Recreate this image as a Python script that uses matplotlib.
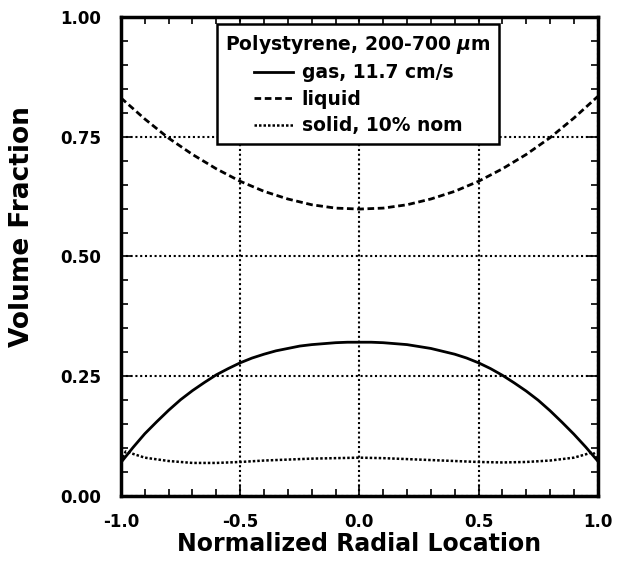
import matplotlib
matplotlib.use("Agg")
import matplotlib.pyplot as plt
from matplotlib.ticker import MultipleLocator

plt.rcParams["font.family"] = ["DejaVu Sans"]
plt.rcParams["font.weight"] = "bold"
plt.rcParams["mathtext.fontset"] = "custom"
plt.rcParams["mathtext.it"] = "DejaVu Sans:italic:bold"

# gas holdup
gas_x = [-1.0, -0.95, -0.9, -0.85, -0.8, -0.75, -0.7, -0.65, -0.6, -0.55, -0.5, -0.45, -0.4,
         -0.35, -0.3, -0.25, -0.2, -0.15, -0.1, -0.05, 0.0,
         0.05, 0.1, 0.15, 0.2, 0.25, 0.3, 0.35, 0.4, 0.45, 0.5, 0.55, 0.6, 0.65, 0.7,
         0.75, 0.8, 0.85, 0.9, 0.95, 1.0]
gas_y = [0.070, 0.101, 0.130, 0.155, 0.179, 0.201, 0.220, 0.237, 0.253, 0.266, 0.278, 0.288, 0.296,
         0.303, 0.308, 0.313, 0.316, 0.318, 0.320, 0.321, 0.321,
         0.321, 0.320, 0.318, 0.316, 0.312, 0.308, 0.302, 0.296, 0.288, 0.278, 0.266, 0.252, 0.236, 0.219,
         0.200, 0.178, 0.154, 0.129, 0.102, 0.073]

# liquid holdup
liq_x = [-1.0, -0.9, -0.8, -0.7, -0.6, -0.5, -0.4, -0.3, -0.2, -0.1, 0.0,
         0.1, 0.2, 0.3, 0.4, 0.5, 0.6, 0.7, 0.8, 0.9, 1.0]
liq_y = [0.831, 0.787, 0.747, 0.713, 0.683, 0.657, 0.636, 0.620, 0.608, 0.601, 0.599,
         0.601, 0.608, 0.620, 0.636, 0.657, 0.683, 0.713, 0.748, 0.789, 0.834]

# solid holdup
sol_x = [-1.0, -0.98, -0.95, -0.9, -0.8, -0.7, -0.6, -0.5, -0.4, -0.3, -0.2, -0.1, 0.0,
         0.1, 0.2, 0.3, 0.4, 0.5, 0.6, 0.7, 0.8, 0.9, 0.95, 0.98, 1.0]
sol_y = [0.072, 0.093, 0.088, 0.080, 0.073, 0.069, 0.069, 0.071, 0.074, 0.076, 0.078, 0.079, 0.080,
         0.079, 0.077, 0.075, 0.073, 0.071, 0.070, 0.071, 0.074, 0.080, 0.087, 0.092, 0.074]

fig = plt.figure(figsize=(6.22, 5.66), dpi=100)
ax = fig.add_axes([0.1945, 0.1237, 0.7665, 0.8463])

ax.plot(gas_x, gas_y, color="black", lw=2.0, ls="-", label="gas, 11.7 cm/s")
ax.plot(liq_x, liq_y, color="black", lw=2.0, ls=(0, (2.4, 1.3)), label="liquid")
ax.plot(sol_x, sol_y, color="black", lw=1.8, ls=(0, (1, 0.8)), label="solid, 10% nom")

ax.set_xlim(-1, 1)
ax.set_ylim(0, 1)
ax.xaxis.set_major_locator(MultipleLocator(0.5))
ax.xaxis.set_minor_locator(MultipleLocator(0.1))
ax.yaxis.set_major_locator(MultipleLocator(0.25))
ax.yaxis.set_minor_locator(MultipleLocator(0.05))
ax.xaxis.set_major_formatter(plt.FuncFormatter(lambda v, _: f"{v:.1f}"))
ax.yaxis.set_major_formatter(plt.FuncFormatter(lambda v, _: f"{v:.2f}"))

ax.tick_params(which="both", direction="in", top=True, right=True, labelsize=12, width=1.2)
ax.tick_params(axis="x", which="major", length=8, pad=12)
ax.tick_params(axis="y", which="major", length=8, pad=14)
ax.tick_params(which="minor", length=5)
for s in ax.spines.values():
    s.set_linewidth(2.5)

ax.grid(True, which="major", color="black", ls=(0, (1, 1.3)), lw=1.5)

ax.set_xlabel("Normalized Radial Location", fontsize=17, fontweight="bold", labelpad=1)
ax.set_ylabel("Volume Fraction", fontsize=19, fontweight="bold")
ax.yaxis.set_label_coords(-0.18, 0.563)

leg = ax.legend(title=r"Polystyrene, 200-700 $\mu$m", loc="upper center",
                bbox_to_anchor=(0.497, 0.985), borderaxespad=0, fontsize=13.5,
                title_fontsize=13.5, handlelength=2.1, handletextpad=0.45,
                labelspacing=0.4, fancybox=False, framealpha=1, edgecolor="black",
                borderpad=0.45, alignment="center")
leg.get_frame().set_linewidth(1.8)
leg.get_title().set_fontweight("bold")
for t in leg.get_texts():
    t.set_fontweight("bold")

fig.savefig("out.png", dpi=100)
